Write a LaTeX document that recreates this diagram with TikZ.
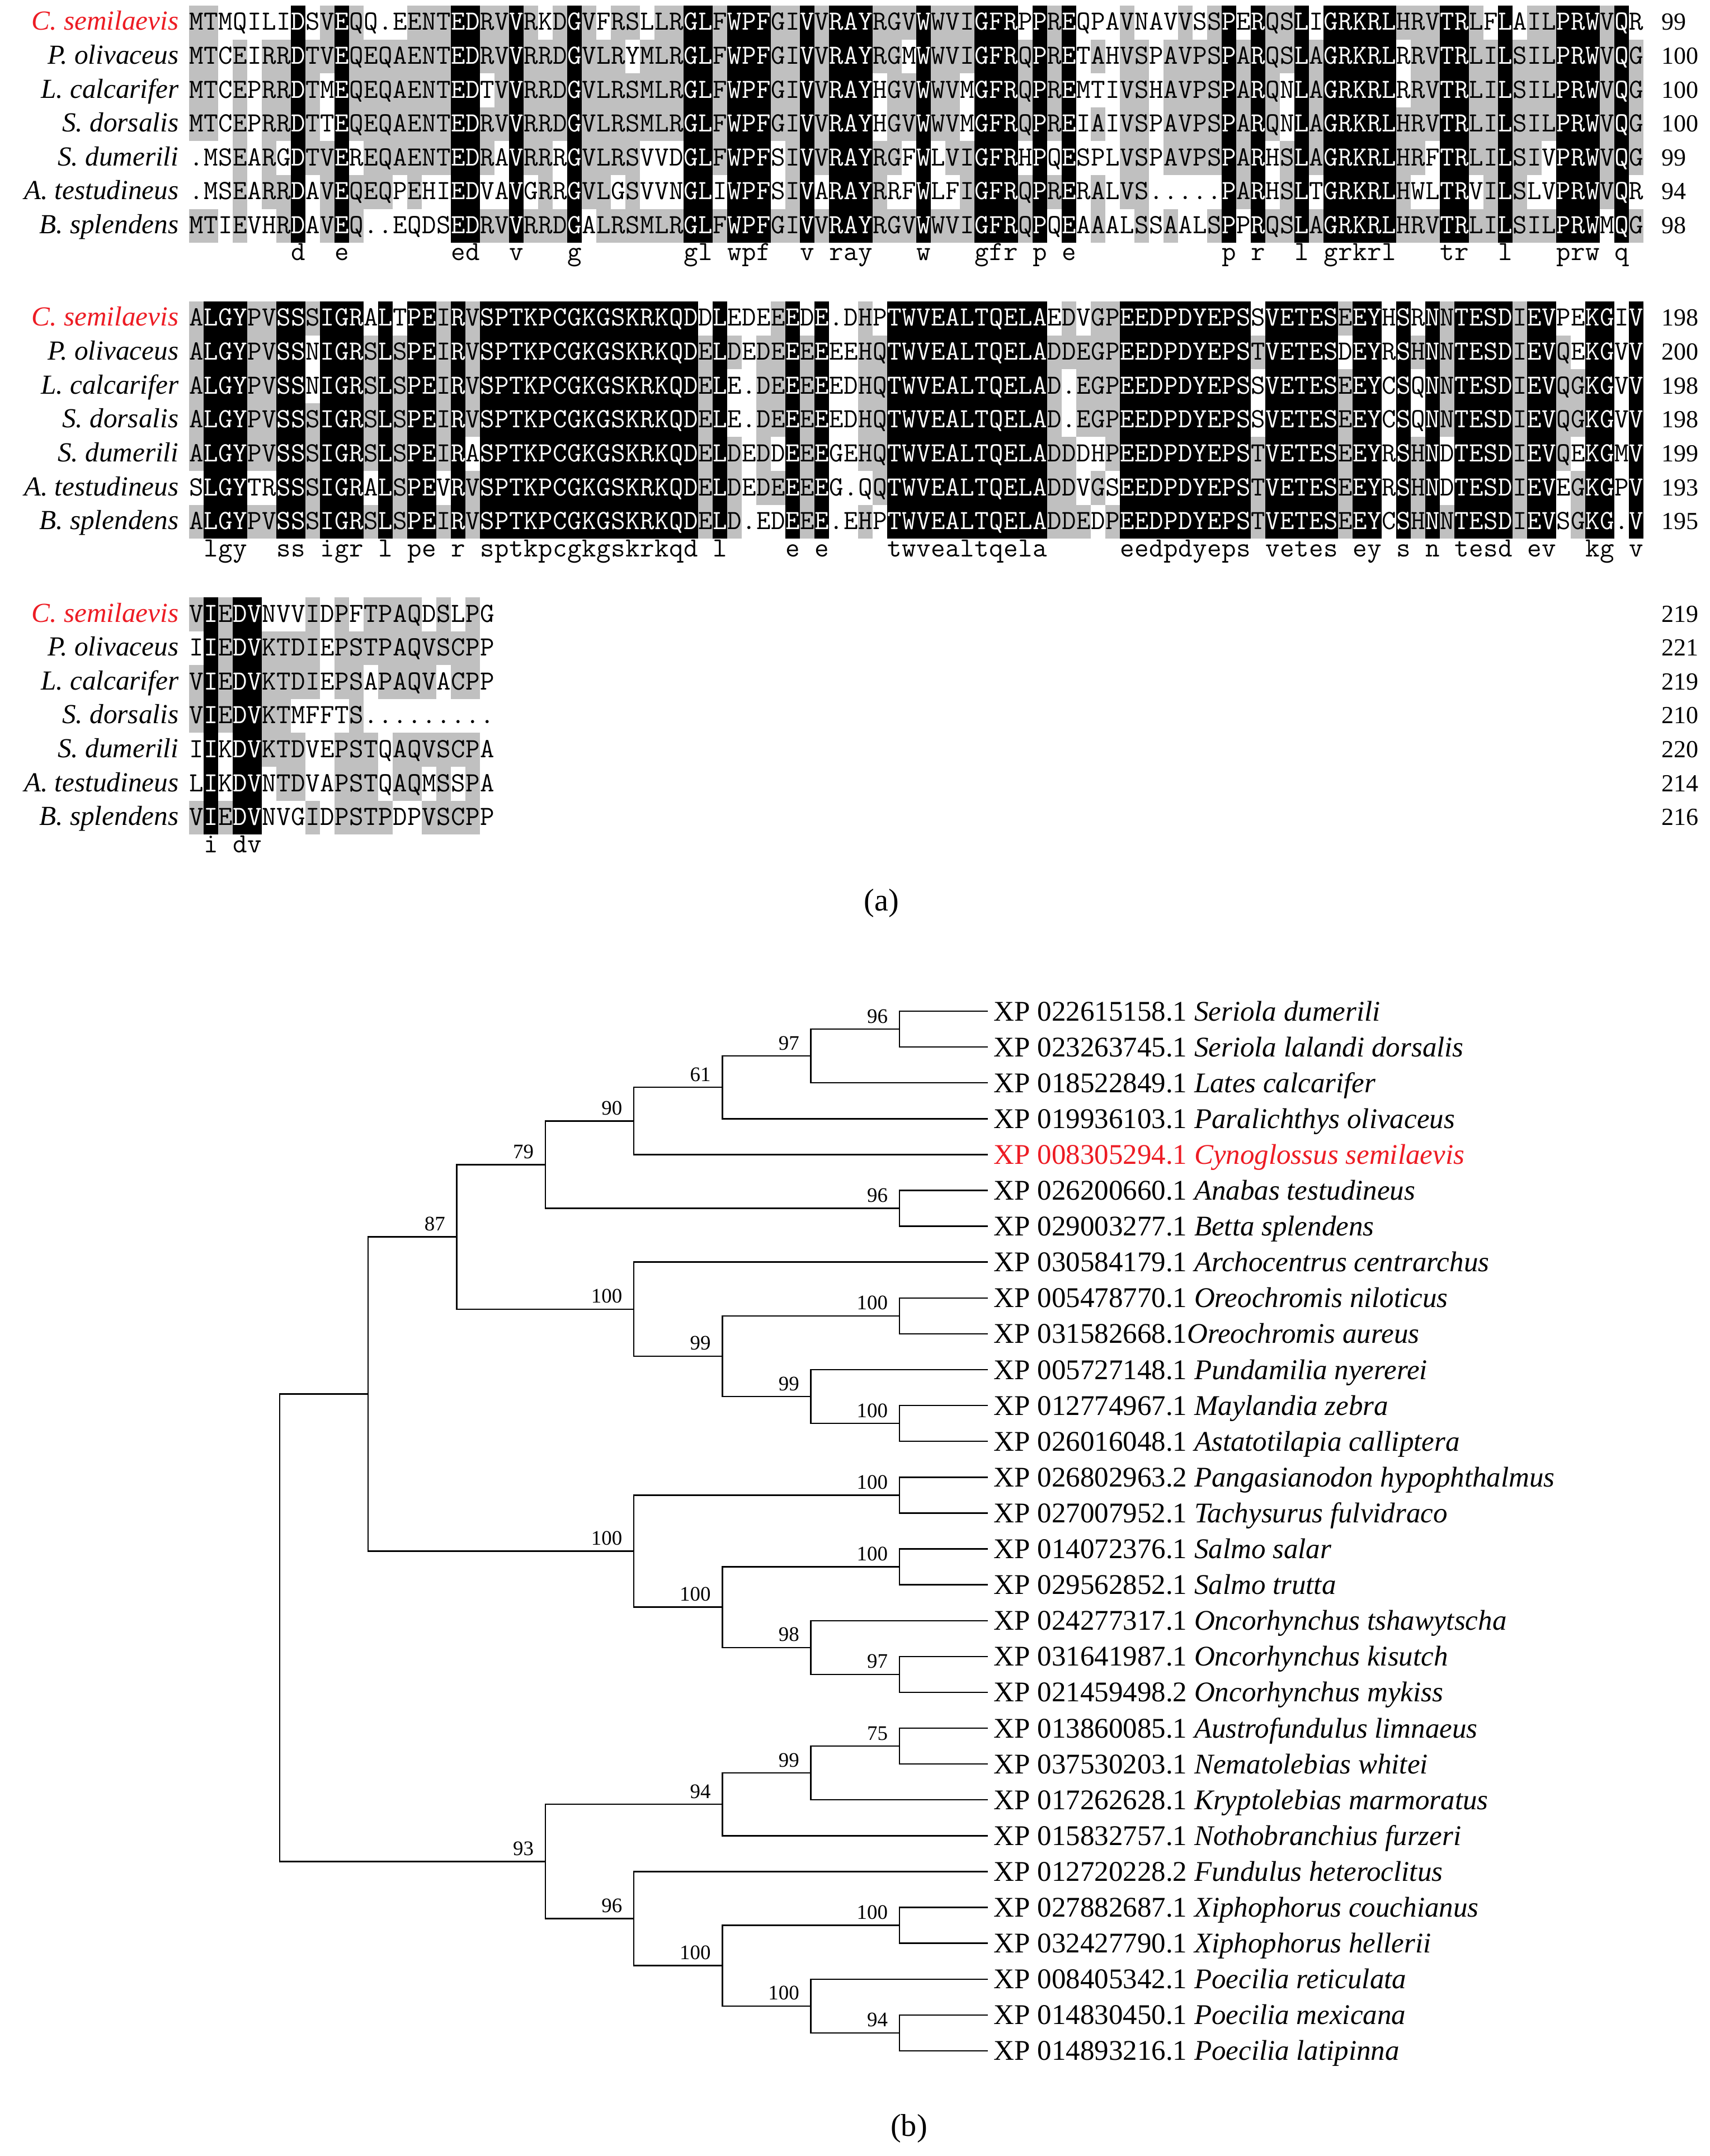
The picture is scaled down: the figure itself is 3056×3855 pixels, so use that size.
\documentclass[tikz,border=0pt]{standalone}
\usepackage{fontspec}
\setmainfont{Liberation Serif}
\usetikzlibrary{calc}

\definecolor{alngrey}{RGB}{192,192,192}
\definecolor{hilite}{RGB}{237,28,36}

\tikzset{
  alnres/.style={inner sep=0pt, anchor=base,
    font=\ttfamily\fontsize{14.1}{14.1}\selectfont},
  alnblk/.style={fill=black},
  alngry/.style={fill=alngrey},
  splabel/.style={inner sep=0pt, anchor=base east,
    font=\itshape\fontsize{14}{14}\selectfont},
  numlabel/.style={inner sep=0pt, anchor=base west,
    font=\fontsize{12.5}{12.5}\selectfont},
  branch/.style={line width=0.7pt},
  boot/.style={inner sep=0pt, anchor=base east, xshift=-2mm, yshift=1.1mm,
    font=\fontsize{10.5}{10.5}\selectfont},
  tiplabel/.style={inner sep=0pt, anchor=base west,
    font=\fontsize{14.5}{14.5}\selectfont},
  caplabel/.style={inner sep=0pt, font=\fontsize{16}{16}\selectfont},
}

% tree levels and leaf rows, in pixels of the reference
\pgfmathdeclarefunction{lx}{1}{\pgfmathparse{500+158.25*#1}}
\pgfmathdeclarefunction{ty}{1}{\pgfmathparse{1808+64.1*(#1-1)}}

\ExplSyntaxOn
\int_new:N \l__aln_n_int
\int_new:N \l__aln_cnt_int
\bool_new:N \l__aln_all_bool
\tl_new:N \l__aln_blk_tl
\tl_new:N \l__aln_first_tl
\tl_new:N \l__aln_ch_tl
\tl_new:N \l__aln_cons_tl
\tl_new:N \l__aln_xa_tl
\tl_new:N \l__aln_xb_tl
\tl_new:N \l__aln_xc_tl
\tl_new:N \l__aln_ya_tl
\tl_new:N \l__aln_yb_tl
\tl_new:N \l__aln_yc_tl
\fp_new:N \l__aln_base_fp

\NewDocumentCommand \alnrow { m m m }
  {
    \tl_set:Nn \l_tmpa_tl {#3}
    \tl_remove_all:Nn \l_tmpa_tl { ~ }
    \tl_gclear_new:c { g__aln_#1_#2_tl }
    \tl_gset_eq:cN { g__aln_#1_#2_tl } \l_tmpa_tl
  }
\NewDocumentCommand \alnnoblack { m m }
  {
    \clist_gclear_new:c { g__aln_nb_#1_clist }
    \clist_gset:cn { g__aln_nb_#1_clist } {#2}
  }
\cs_new:Npn \__aln_get:nn #1#2
  { \str_item:cn { g__aln_ \l__aln_blk_tl _ #1 _tl } {#2} }

\cs_new_protected:Npn \__aln_letter:nnn #1#2#3
  {
    \tl_set:Ne \l__aln_ch_tl { \__aln_get:nn {#1} {#2} }
    \tl_set:Ne \l__aln_yc_tl { \fp_eval:n { \l__aln_base_fp + 60.6 * (#1 - 1) } }
    \node[alnres,text=#3](\l__aln_blk_tl r#1c#2)at(\l__aln_xc_tl,\l__aln_yc_tl){\l__aln_ch_tl};
  }

\cs_new_protected:Npn \__aln_cell:nn #1#2
  {
    \tl_set:Ne \l__aln_ch_tl { \__aln_get:nn {#1} {#2} }
    \str_if_eq:eeF { \l__aln_ch_tl } { . }
      {
        \int_zero:N \l__aln_cnt_int
        \int_step_inline:nn {7}
          {
            \str_if_eq:eeT { \__aln_get:nn {##1} {#2} } { \l__aln_ch_tl }
              { \int_incr:N \l__aln_cnt_int }
          }
        \int_compare:nNnT { \l__aln_cnt_int } > { 3 }
          {
            \tl_set:Ne \l__aln_ya_tl { \fp_eval:n { \l__aln_base_fp + 60.6 * (#1 - 1) - 44 } }
            \tl_set:Ne \l__aln_yb_tl { \fp_eval:n { \l__aln_base_fp + 60.6 * (#1 - 1) + 16.6 } }
            \fill[alngry](\l__aln_xa_tl,\l__aln_ya_tl)rectangle(\l__aln_xb_tl,\l__aln_yb_tl);
          }
      }
    \__aln_letter:nnn {#1} {#2} {black}
  }

\cs_new_protected:Npn \__aln_column:n #1
  {
    \tl_set:Ne \l__aln_first_tl { \__aln_get:nn {1} {#1} }
    \bool_set_true:N \l__aln_all_bool
    \int_step_inline:nn {7}
      {
        \str_if_eq:eeF { \__aln_get:nn {##1} {#1} } { \l__aln_first_tl }
          { \bool_set_false:N \l__aln_all_bool }
      }
    \str_if_eq:eeT { \l__aln_first_tl } { . }
      { \bool_set_false:N \l__aln_all_bool }
    \clist_if_in:cnT { g__aln_nb_ \l__aln_blk_tl _clist } {#1}
      { \bool_set_false:N \l__aln_all_bool }
    \tl_set:Ne \l__aln_xa_tl { \fp_eval:n { 338 + 26 * (#1 - 1) } }
    \tl_set:Ne \l__aln_xb_tl { \fp_eval:n { 338 + 26 * #1 } }
    \tl_set:Ne \l__aln_xc_tl { \fp_eval:n { 351 + 26 * (#1 - 1) } }
    \bool_if:NTF \l__aln_all_bool
      {
        \tl_set:Ne \l__aln_ya_tl { \fp_eval:n { \l__aln_base_fp - 44 } }
        \tl_set:Ne \l__aln_yb_tl { \fp_eval:n { \l__aln_base_fp + 380.2 } }
        \fill[alnblk](\l__aln_xa_tl,\l__aln_ya_tl)rectangle(\l__aln_xb_tl,\l__aln_yb_tl);
        \int_step_inline:nn {7} { \__aln_letter:nnn {##1} {#1} {white} }
        \tl_set:Ne \l__aln_yc_tl { \fp_eval:n { \l__aln_base_fp + 412 } }
        \tl_set:Ne \l__aln_cons_tl { \str_lowercase:f { \l__aln_first_tl } }
        \node[alnres](\l__aln_blk_tl cons#1)at(\l__aln_xc_tl,\l__aln_yc_tl){\l__aln_cons_tl};
      }
      { \int_step_inline:nn {7} { \__aln_cell:nn {##1} {#1} } }
  }

\NewDocumentCommand \alnblock { m m }
  {
    \tl_set:Nn \l__aln_blk_tl {#1}
    \fp_set:Nn \l__aln_base_fp {#2}
    \clist_if_exist:cF { g__aln_nb_#1_clist }
      { \clist_new:c { g__aln_nb_#1_clist } }
    \int_set:Nn \l__aln_n_int { \str_count:c { g__aln_#1_1_tl } }
    \int_step_function:nN { \l__aln_n_int } \__aln_column:n
  }
\ExplSyntaxOff

% alignment, first block
\alnrow{a}{1}{MTMQILIDSV EQQ.EENTED RVVRKDGVFR SLLRGLFWPF GIVVRAYRGV WWVIGFRPPR EQPAVNAVVS SPERQSLIGR KRLHRVTRLF LAILPRWVQR}
\alnrow{a}{2}{MTCEIRRDTV EQEQAENTED RVVRRDGVLR YMLRGLFWPF GIVVRAYRGM WWVIGFRQPR ETAHVSPAVP SPARQSLAGR KRLRRVTRLI LSILPRWVQG}
\alnrow{a}{3}{MTCEPRRDTM EQEQAENTED TVVRRDGVLR SMLRGLFWPF GIVVRAYHGV WWVMGFRQPR EMTIVSHAVP SPARQNLAGR KRLRRVTRLI LSILPRWVQG}
\alnrow{a}{4}{MTCEPRRDTT EQEQAENTED RVVRRDGVLR SMLRGLFWPF GIVVRAYHGV WWVMGFRQPR EIAIVSPAVP SPARQNLAGR KRLHRVTRLI LSILPRWVQG}
\alnrow{a}{5}{.MSEARGDTV EREQAENTED RAVRRRGVLR SVVDGLFWPF SIVVRAYRGF WLVIGFRHPQ ESPLVSPAVP SPARHSLAGR KRLHRFTRLI LSIVPRWVQG}
\alnrow{a}{6}{.MSEARRDAV EQEQPEHIED VAVGRRGVLG SVVNGLIWPF SIVARAYRRF WLFIGFRQPR ERALVS.... .PARHSLTGR KRLHWLTRVI LSLVPRWVQR}
\alnrow{a}{7}{MTIEVHRDAV EQ..EQDSED RVVRRDGALR SMLRGLFWPF GIVVRAYRGV WWVIGFRQPQ EAAALSSAAL SPPRQSLAGR KRLHRVTRLI LSILPRWMQG}
\alnnoblack{a}{42}
% second block
\alnrow{b}{1}{ALGYPVSSSI GRALTPEIRV SPTKPCGKGS KRKQDDLEDE EEDE.DHPTW VEALTQELAE DVGPEEDPDY EPSSVETESE EYHSRNNTES DIEVPEKGIV}
\alnrow{b}{2}{ALGYPVSSNI GRSLSPEIRV SPTKPCGKGS KRKQDELDED EEEEEEHQTW VEALTQELAD DEGPEEDPDY EPSTVETESD EYRSHNNTES DIEVQEKGVV}
\alnrow{b}{3}{ALGYPVSSNI GRSLSPEIRV SPTKPCGKGS KRKQDELE.D EEEEEDHQTW VEALTQELAD .EGPEEDPDY EPSSVETESE EYCSQNNTES DIEVQGKGVV}
\alnrow{b}{4}{ALGYPVSSSI GRSLSPEIRV SPTKPCGKGS KRKQDELE.D EEEEEDHQTW VEALTQELAD .EGPEEDPDY EPSSVETESE EYCSQNNTES DIEVQGKGVV}
\alnrow{b}{5}{ALGYPVSSSI GRSLSPEIRA SPTKPCGKGS KRKQDELDED DEEEGEHQTW VEALTQELAD DDHPEEDPDY EPSTVETESE EYRSHNDTES DIEVQEKGMV}
\alnrow{b}{6}{SLGYTRSSSI GRALSPEVRV SPTKPCGKGS KRKQDELDED EEEEG.QQTW VEALTQELAD DVGSEEDPDY EPSTVETESE EYRSHNDTES DIEVEGKGPV}
\alnrow{b}{7}{ALGYPVSSSI GRSLSPEIRV SPTKPCGKGS KRKQDELD.E DEEE.EHPTW VEALTQELAD DEDPEEDPDY EPSTVETESE EYCSHNNTES DIEVSGKG.V}
\alnnoblack{b}{92}
% third block
\alnrow{c}{1}{VIEDVNVVID PFTPAQDSLP G}
\alnrow{c}{2}{IIEDVKTDIE PSTPAQVSCP P}
\alnrow{c}{3}{VIEDVKTDIE PSAPAQVACP P}
\alnrow{c}{4}{VIEDVKTMFF TS........ .}
\alnrow{c}{5}{IIKDVKTDVE PSTQAQVSCP A}
\alnrow{c}{6}{LIKDVNTDVA PSTQAQMSSP A}
\alnrow{c}{7}{VIEDVNVGID PSTPDPVSCP P}

\begin{document}
\begin{tikzpicture}[x=0.01cm, y=-0.01cm]
  \useasboundingbox (0,0) rectangle (3056,3855);
  \fill[white] (0,0) rectangle (3056,3855);

  % (a) alignment
  \alnblock{a}{54}
  \alnblock{b}{583}
  \alnblock{c}{1112}

  \foreach \sp/\na/\nb/\nc [count=\r] in {C. semilaevis/99/198/219,
      P. olivaceus/100/200/221, L. calcarifer/100/198/219,
      S. dorsalis/100/198/210, S. dumerili/99/199/220,
      A. testudineus/94/193/214, B. splendens/98/195/216} {
    \ifnum\r=1 \def\spcol{hilite}\else\def\spcol{black}\fi
    \foreach \blk/\base/\num in {a/54/\na, b/583/\nb, c/1112/\nc} {
      \node[splabel, text=\spcol] (sp\blk\r) at (320, {\base+60.6*(\r-1)}) {\sp};
      \node[numlabel] (num\blk\r) at (2970, {\base+60.6*(\r-1)}) {\num};
    }
  }
  \node[caplabel] (capa) at (1576,1615) {(a)};

  % (b) tree
  \foreach \lbl [count=\i] in {
      {XP 022615158.1 \textit{Seriola dumerili}},
      {XP 023263745.1 \textit{Seriola lalandi dorsalis}},
      {XP 018522849.1 \textit{Lates calcarifer}},
      {XP 019936103.1 \textit{Paralichthys olivaceus}},
      {\textcolor{hilite}{XP 008305294.1 \textit{Cynoglossus semilaevis}}},
      {XP 026200660.1 \textit{Anabas testudineus}},
      {XP 029003277.1 \textit{Betta splendens}},
      {XP 030584179.1 \textit{Archocentrus centrarchus}},
      {XP 005478770.1 \textit{Oreochromis niloticus}},
      {XP 031582668.1\textit{Oreochromis aureus}},
      {XP 005727148.1 \textit{Pundamilia nyererei}},
      {XP 012774967.1 \textit{Maylandia zebra}},
      {XP 026016048.1 \textit{Astatotilapia calliptera}},
      {XP 026802963.2 \textit{Pangasianodon hypophthalmus}},
      {XP 027007952.1 \textit{Tachysurus fulvidraco}},
      {XP 014072376.1 \textit{Salmo salar}},
      {XP 029562852.1 \textit{Salmo trutta}},
      {XP 024277317.1 \textit{Oncorhynchus tshawytscha}},
      {XP 031641987.1 \textit{Oncorhynchus kisutch}},
      {XP 021459498.2 \textit{Oncorhynchus mykiss}},
      {XP 013860085.1 \textit{Austrofundulus limnaeus}},
      {XP 037530203.1 \textit{Nematolebias whitei}},
      {XP 017262628.1 \textit{Kryptolebias marmoratus}},
      {XP 015832757.1 \textit{Nothobranchius furzeri}},
      {XP 012720228.2 \textit{Fundulus heteroclitus}},
      {XP 027882687.1 \textit{Xiphophorus couchianus}},
      {XP 032427790.1 \textit{Xiphophorus hellerii}},
      {XP 008405342.1 \textit{Poecilia reticulata}},
      {XP 014830450.1 \textit{Poecilia mexicana}},
      {XP 014893216.1 \textit{Poecilia latipinna}}} {
    \coordinate (t\i) at ({lx(8)}, {ty(\i)});
    \node[tiplabel, xshift=1mm, yshift=-1.7mm] (lab\i) at (t\i) {\lbl};
  }

  \foreach \n/\k/\m in {na/7/1.5, nb/6/2.25, nc/5/3.125, nd/4/4.0625,
      ne/7/6.5, nf/3/5.28125, ng/7/9.5, nh/7/12.5, ni/6/11.75,
      nj/5/10.625, nk/4/9.3125, nl/2/7.296875, nm/7/14.5, nn/7/16.5,
      no/7/19.5, np/6/18.75, nq/5/17.625, nr/4/16.0625, ns/1/11.6796875,
      nt/7/21.5, nu/6/22.25, nv/5/23.125, nw/7/26.5, nx/7/29.5,
      ny/6/28.75, nz/5/27.625, naa/4/26.3125, nbb/3/24.71875,
      root/0/18.19921875}
    \coordinate (\n) at ({lx(\k)}, {ty(\m)});

  \foreach \p/\c in {na/t1, na/t2, nb/na, nb/t3, nc/nb, nc/t4, nd/nc, nd/t5,
      ne/t6, ne/t7, nf/nd, nf/ne, ng/t9, ng/t10, nh/t12, nh/t13,
      ni/t11, ni/nh, nj/ng, nj/ni, nk/t8, nk/nj, nl/nf, nl/nk,
      nm/t14, nm/t15, nn/t16, nn/t17, no/t19, no/t20, np/t18, np/no,
      nq/nn, nq/np, nr/nm, nr/nq, ns/nl, ns/nr,
      nt/t21, nt/t22, nu/nt, nu/t23, nv/nu, nv/t24,
      nw/t26, nw/t27, nx/t29, nx/t30, ny/t28, ny/nx, nz/nw, nz/ny,
      naa/t25, naa/nz, nbb/nv, nbb/naa, root/ns, root/nbb}
    \draw[branch] (\p) |- (\c);

  \foreach \n/\v in {na/96, nb/97, nc/61, nd/90, ne/96, nf/79, ng/100,
      nh/100, ni/99, nj/99, nk/100, nl/87, nm/100, nn/100, no/97, np/98,
      nq/100, nr/100, nt/75, nu/99, nv/94, nw/100, nx/94, ny/100, nz/100,
      naa/96, nbb/93}
    \node[boot] (b\n) at (\n) {\v};

  \node[caplabel] (capb) at (1625,3806) {(b)};
\end{tikzpicture}
\end{document}
